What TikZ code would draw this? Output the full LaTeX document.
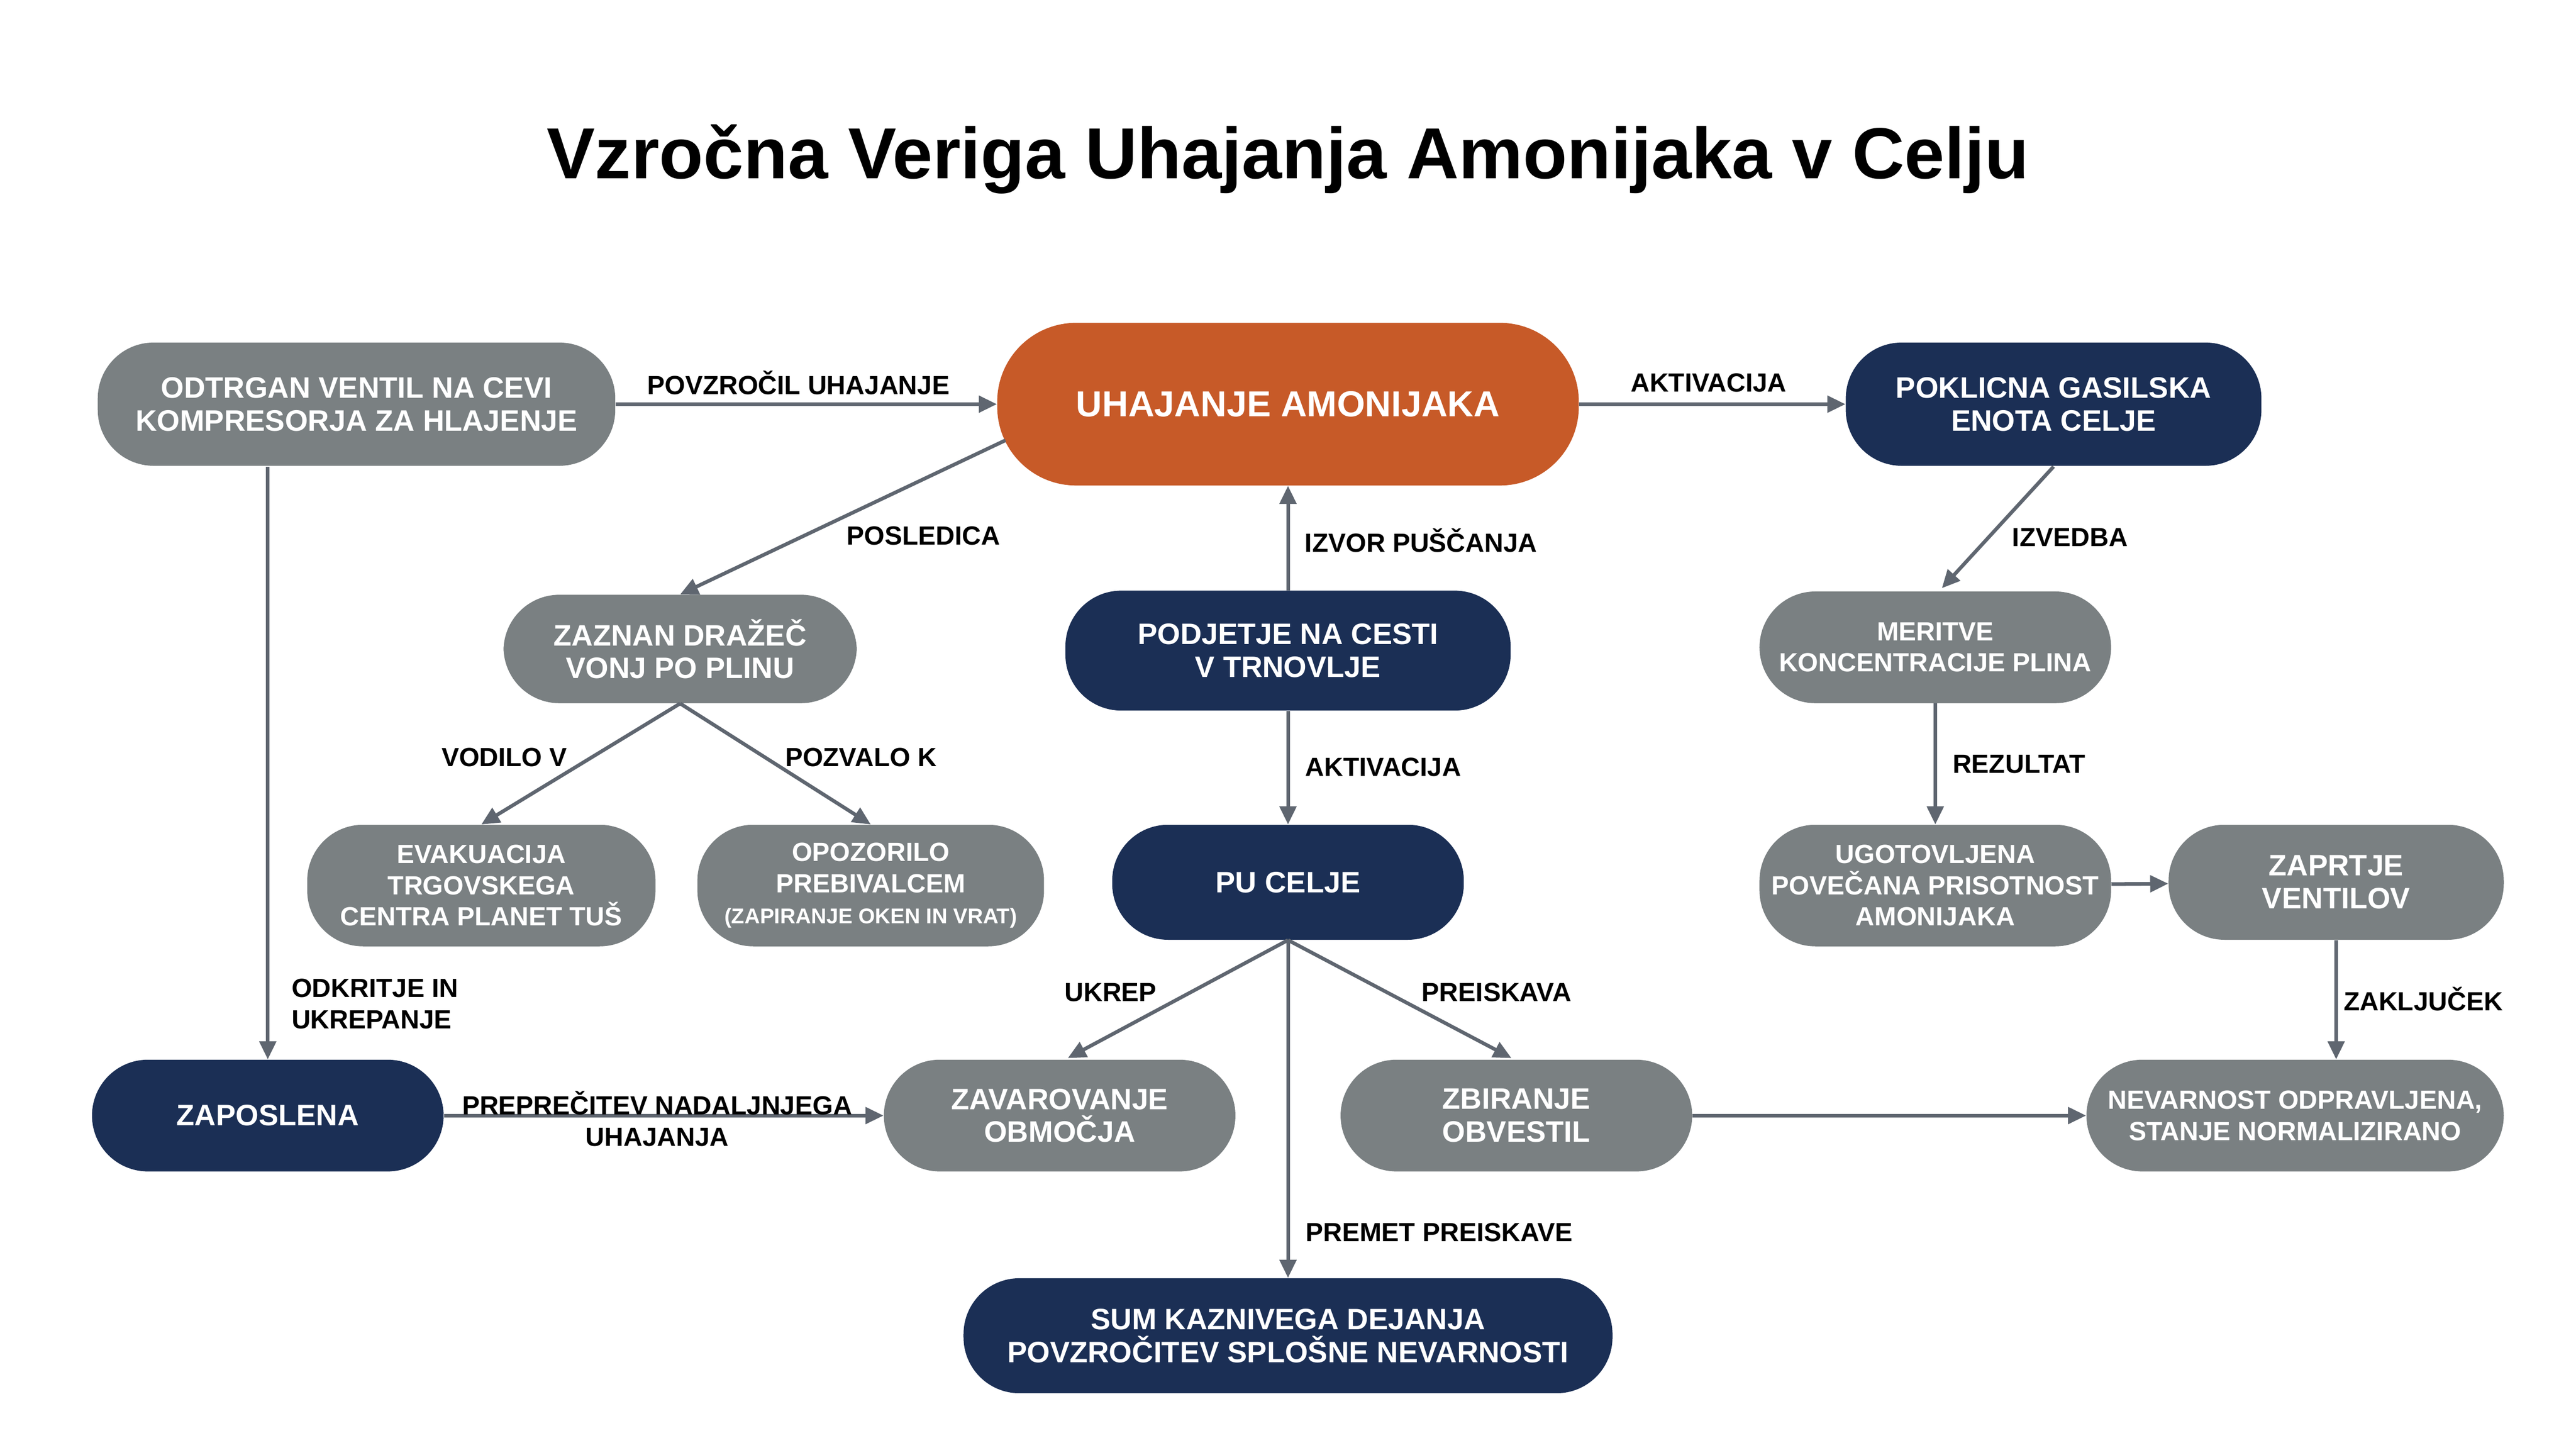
\documentclass[tikz,border=0pt]{standalone}
\usepackage{fontspec}
\setmainfont{Liberation Sans}
\usetikzlibrary{arrows.meta}
\definecolor{navy}{HTML}{1B2F55}
\definecolor{gry}{HTML}{7A8082}
\definecolor{orng}{HTML}{C75A28}
\definecolor{edge}{HTML}{5F6670}
\begin{document}
\begin{tikzpicture}[x=1pt,y=-1pt,
 box/.style={rounded corners=34pt,text=white,font=\bfseries\fontsize{18}{20}\selectfont,align=center,inner sep=0pt},
 g/.style={box,fill=gry},
 n/.style={box,fill=navy},
 arr/.style={draw=edge,line width=2.2pt,-{Triangle[length=11pt,width=10pt]}},
 lab/.style={font=\bfseries\fontsize{16}{19}\selectfont,text=black,align=left}]
\fill[white] (0,0) rectangle (1568,875);
\node[font=\bfseries\fontsize{44}{50}\selectfont] (title) at (784,97) {Vzročna Veriga Uhajanja Amonijaka v Celju};
\node[g,minimum width=315pt,minimum height=75pt] (n1) at (217,246) {ODTRGAN VENTIL NA CEVI\\KOMPRESORJA ZA HLAJENJE};
\node[box,fill=orng,minimum width=354pt,minimum height=99pt,rounded corners=48pt,font=\bfseries\fontsize{22}{24}\selectfont] (uh) at (784,246) {UHAJANJE AMONIJAKA};
\node[n,minimum width=253pt,minimum height=75pt] (gas) at (1250,246) {POKLICNA GASILSKA\\ENOTA CELJE};
\node[g,minimum width=215pt,minimum height=66pt] (zaz) at (414,395) {ZAZNAN DRAŽEČ\\VONJ PO PLINU};
\node[n,minimum width=271pt,minimum height=73pt] (podj) at (784,396) {PODJETJE NA CESTI\\V TRNOVLJE};
\node[g,minimum width=214pt,minimum height=68pt,font=\bfseries\fontsize{16}{19}\selectfont] (mer) at (1178,394) {MERITVE\\KONCENTRACIJE PLINA};
\node[g,minimum width=212pt,minimum height=74pt,font=\bfseries\fontsize{16}{19}\selectfont] (evak) at (293,539) {EVAKUACIJA\\TRGOVSKEGA\\CENTRA PLANET TUŠ};
\node[g,minimum width=211pt,minimum height=74pt,font=\bfseries\fontsize{16}{19}\selectfont] (opoz) at (530,539) {OPOZORILO\\PREBIVALCEM\\{\fontsize{13}{15}\selectfont (ZAPIRANJE OKEN IN VRAT)}};
\node[n,minimum width=214pt,minimum height=70pt] (pu) at (784,537) {PU CELJE};
\node[g,minimum width=214pt,minimum height=74pt,font=\bfseries\fontsize{16}{19}\selectfont] (ugot) at (1178,539) {UGOTOVLJENA\\POVEČANA PRISOTNOST\\AMONIJAKA};
\node[g,minimum width=204pt,minimum height=70pt] (zapr) at (1422,537) {ZAPRTJE\\VENTILOV};
\node[n,minimum width=214pt,minimum height=68pt] (zap) at (163,679) {ZAPOSLENA};
\node[g,minimum width=214pt,minimum height=68pt] (zav) at (645,679) {ZAVAROVANJE\\OBMOČJA};
\node[g,minimum width=214pt,minimum height=68pt] (zbir) at (923,679) {ZBIRANJE\\OBVESTIL};
\node[g,minimum width=254pt,minimum height=68pt,font=\bfseries\fontsize{16}{19}\selectfont] (nev) at (1397,679) {NEVARNOST ODPRAVLJENA,\\STANJE NORMALIZIRANO};
\node[n,minimum width=395pt,minimum height=70pt] (sum) at (784,813) {SUM KAZNIVEGA DEJANJA\\POVZROČITEV SPLOŠNE NEVARNOSTI};
% connectors
\draw[arr] (n1) -- (uh);
\node[lab] (l1) at (486,233) {POVZROČIL UHAJANJE};
\draw[arr] (uh) -- (gas);
\node[lab] (l2) at (1040,233) {AKTIVACIJA};
\coordinate (uhl) at (612,268);
\draw[arr] (uhl) -- (zaz.north);
\node[lab] (l3) at (562,326) {POSLEDICA};
\draw[arr] (podj) -- (uh);
\node[lab] (l4) at (865,329) {IZVOR PUŠČANJA};
\coordinate (gasb) at (1250,284);
\draw[arr] (gasb) -- (1182,358);
\node[lab] (l5) at (1260,327) {IZVEDBA};
\draw[arr] (zaz.south) -- (evak.north);
\node[lab] (l6) at (307,461) {VODILO V};
\draw[arr] (zaz.south) -- (opoz.north);
\node[lab] (l7) at (524,461) {POZVALO K};
\draw[arr] (podj) -- (pu);
\node[lab] (l8) at (842,467) {AKTIVACIJA};
\draw[arr] (mer) -- (ugot);
\node[lab] (l9) at (1229,465) {REZULTAT};
\draw[arr] (ugot) -- (zapr);
\draw[arr] (zapr) -- (zapr |- nev.north);
\node[lab] (l10) at (1475,608) {ZAKLJUČEK};
\coordinate (n1b) at (163,284);
\draw[arr] (n1b) -- (zap.north);
\node[lab,anchor=west] (l11) at (174,611) {ODKRITJE IN\\UKREPANJE};
\draw[arr] (pu.south) -- (650,644);
\node[lab] (l12) at (676,604) {UKREP};
\draw[arr] (pu.south) -- (920,644);
\node[lab] (l13) at (911,604) {PREISKAVA};
\draw[arr] (pu.south) -- (sum.north);
\node[lab] (l14) at (876,750) {PREMET PREISKAVE};
\draw[arr] (zap) -- (zav);
\node[lab,align=center] (l15) at (400,681) {PREPREČITEV NADALJNJEGA\\UHAJANJA};
\draw[arr] (zbir) -- (nev);
\end{tikzpicture}
\end{document}
